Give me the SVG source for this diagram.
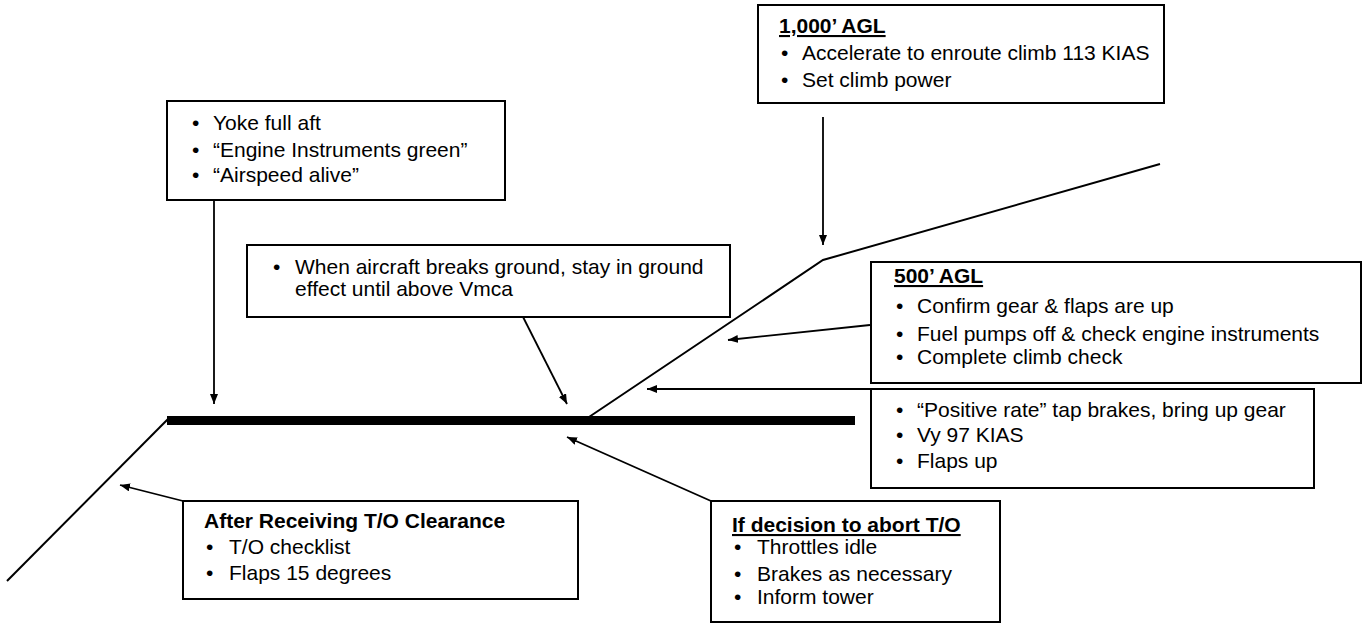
<svg xmlns="http://www.w3.org/2000/svg" width="1371" height="624" viewBox="0 0 1371 624">
<style>
  .box { fill: #ffffff; stroke: #000000; stroke-width: 2; }
  .t { font-family: "Liberation Sans", Arial, sans-serif; font-size: 21px; fill: #000000; }
  .h { font-weight: bold; }
  .u { text-decoration: underline; }
  .path { fill: none; stroke: #000000; stroke-width: 2; }
  .conn { fill: none; stroke: #000000; stroke-width: 1.8; marker-end: url(#arrow); }
</style>
<defs>
  <marker id="arrow" markerUnits="userSpaceOnUse" markerWidth="11" markerHeight="9" refX="10" refY="4" orient="auto">
    <path d="M0,0 L10,4 L0,8 Z" fill="#000000"/>
  </marker>
</defs>
<rect width="1371" height="624" fill="#ffffff"/>

<g id="flightpath">
  <rect x="167" y="416" width="688" height="9" fill="#000000"/>
  <line class="path" x1="168" y1="419" x2="7" y2="581"/>
  <polyline class="path" points="589,417 823,260 1160,164"/>
</g>

<g id="connectors">
  <line class="conn" x1="823" y1="117" x2="823" y2="245"/>
  <line class="conn" x1="214" y1="200" x2="214" y2="404"/>
  <line class="conn" x1="519" y1="309" x2="567" y2="404"/>
  <line class="conn" x1="870" y1="325" x2="728" y2="340"/>
  <line class="conn" x1="871" y1="389" x2="647" y2="389"/>
  <line class="conn" x1="183" y1="501" x2="120" y2="485"/>
  <line class="conn" x1="711" y1="501" x2="567" y2="437"/>
</g>

<g id="node-1000agl">
  <rect class="box" x="758" y="5" width="406" height="98"/>
  <text class="t h u" x="779" y="33">1,000’ AGL</text>
  <text class="t" x="781" y="60">•</text>
  <text class="t" x="802" y="60">Accelerate to enroute climb 113 KIAS</text>
  <text class="t" x="781" y="87">•</text>
  <text class="t" x="802" y="87">Set climb power</text>
</g>

<g id="node-yoke">
  <rect class="box" x="167" y="101" width="338" height="99"/>
  <text class="t" x="192" y="130">•</text>
  <text class="t" x="213" y="130">Yoke full aft</text>
  <text class="t" x="192" y="157">•</text>
  <text class="t" x="213" y="157">“Engine Instruments green”</text>
  <text class="t" x="192" y="182">•</text>
  <text class="t" x="213" y="182">“Airspeed alive”</text>
</g>

<g id="node-groundeffect">
  <rect class="box" x="247" y="245" width="483" height="72"/>
  <text class="t" x="273" y="274">•</text>
  <text class="t" x="295" y="274">When aircraft breaks ground, stay in ground</text>
  <text class="t" x="295" y="296">effect until above Vmca</text>
</g>

<g id="node-500agl">
  <rect class="box" x="871" y="262" width="490" height="121"/>
  <text class="t h u" x="894" y="283">500’ AGL</text>
  <text class="t" x="896" y="313">•</text>
  <text class="t" x="917" y="313">Confirm gear &amp; flaps are up</text>
  <text class="t" x="896" y="341">•</text>
  <text class="t" x="917" y="341">Fuel pumps off &amp; check engine instruments</text>
  <text class="t" x="896" y="364">•</text>
  <text class="t" x="917" y="364">Complete climb check</text>
</g>

<g id="node-positiverate">
  <rect class="box" x="871" y="389" width="443" height="99"/>
  <text class="t" x="896" y="417">•</text>
  <text class="t" x="917" y="417">“Positive rate” tap brakes, bring up gear</text>
  <text class="t" x="896" y="442">•</text>
  <text class="t" x="917" y="442">Vy 97 KIAS</text>
  <text class="t" x="896" y="468">•</text>
  <text class="t" x="917" y="468">Flaps up</text>
</g>

<g id="node-clearance">
  <rect class="box" x="183" y="501" width="395" height="98"/>
  <text class="t h" x="204" y="528">After Receiving T/O Clearance</text>
  <text class="t" x="206" y="554">•</text>
  <text class="t" x="229" y="554">T/O checklist</text>
  <text class="t" x="206" y="580">•</text>
  <text class="t" x="229" y="580">Flaps 15 degrees</text>
</g>

<g id="node-abort">
  <rect class="box" x="711" y="501" width="289" height="121"/>
  <text class="t h u" x="732" y="532">If decision to abort T/O</text>
  <text class="t" x="734" y="554">•</text>
  <text class="t" x="757" y="554">Throttles idle</text>
  <text class="t" x="734" y="581">•</text>
  <text class="t" x="757" y="581">Brakes as necessary</text>
  <text class="t" x="734" y="604">•</text>
  <text class="t" x="757" y="604">Inform tower</text>
</g>
</svg>
